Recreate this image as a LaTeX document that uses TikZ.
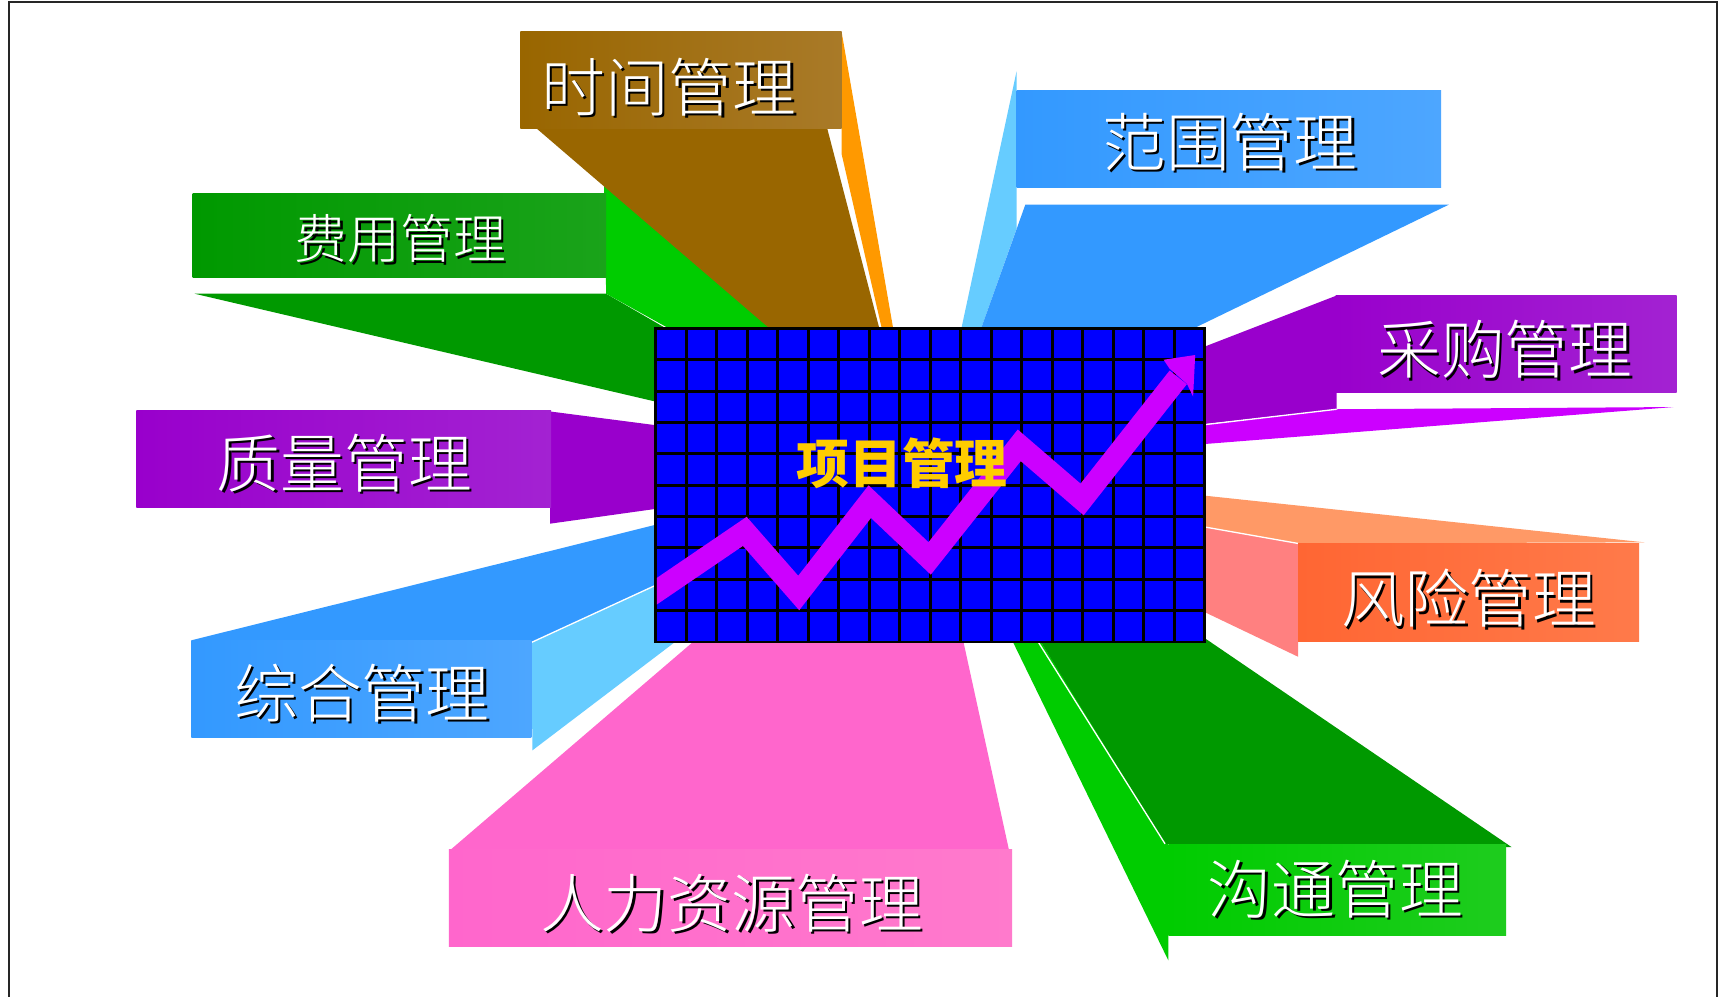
\documentclass[tikz,border=0pt]{standalone}
\usepackage{fontspec}
\IfFontExistsTF{Noto Sans CJK SC Light}
  {\newfontfamily\songti{Noto Sans CJK SC Light}}
  {\newfontfamily\songti{Noto Sans CJK SC}}
\newfontfamily\heiti{Noto Sans CJK SC}
\definecolor{brownA}{HTML}{996600}
\definecolor{brownB}{HTML}{A97A28}
\definecolor{orangeA}{HTML}{FF9900}
\definecolor{greenD}{HTML}{009900}
\definecolor{greenDB}{HTML}{1AA31A}
\definecolor{greenL}{HTML}{00CC00}
\definecolor{greenLB}{HTML}{1ECC1E}
\definecolor{purpA}{HTML}{9900CC}
\definecolor{purpB}{HTML}{A322D2}
\definecolor{magA}{HTML}{CC00FF}
\definecolor{blueA}{HTML}{3399FF}
\definecolor{blueB}{HTML}{4DA6FF}
\definecolor{blueL}{HTML}{66CCFF}
\definecolor{pinkA}{HTML}{FF66CC}
\definecolor{pinkB}{HTML}{FF7ACC}
\definecolor{riskA}{HTML}{FF6633}
\definecolor{riskB}{HTML}{FF7A4A}
\definecolor{riskTop}{HTML}{FF9966}
\definecolor{riskSide}{HTML}{FF8080}
\definecolor{gridBlue}{HTML}{0000FF}
\definecolor{gold}{HTML}{FFCC00}
\newcommand\shtxt[1]{\rlap{\kern1.1pt\raisebox{-1.1pt}{\textcolor{black}{#1}}}#1}
\tikzset{
  lbl/.style={text=white, inner sep=0pt, font=\songti\fontsize{29}{30}\selectfont},
  lblsmall/.style={lbl, font=\songti\fontsize{24}{25}\selectfont},
  gridline/.style={black, line width=1.3pt},
  sep/.style={white, line width=0.6pt},
}
\begin{document}
\begin{tikzpicture}[x=0.5pt, y=-0.5pt]
\useasboundingbox (0,0) rectangle (1568,906);
\fill[white] (0,0) rectangle (1568,906);
% frame
\draw[black!85, line width=1pt] (8,906) -- (8,2) -- (1561,2) -- (1561,906);

% ---- 费用管理 pieces
\fill[greenD] (177,267) -- (551,267) -- (608,300) -- (600,300) -- (600,366) -- cycle;
\fill[greenL] (549,166) -- (720,305) -- (610,305) -- (608,298.5) -- (551,267) -- cycle;
% ---- 时间管理 pieces
\fill[brownA] (488,117) -- (752,117) -- (801,305) -- (707,305) -- cycle;
\fill[orangeA] (765,29) -- (813,305) -- (803,305) -- (765,140) -- cycle;
\shade[left color=brownA, right color=brownB] (473,29) rectangle (765,117);
\shade[left color=greenD, right color=greenDB] (175,176) rectangle (551,252);

% ---- 质量管理
\fill[purpA] (500,374) -- (600,387) -- (600,462) -- (500,476) -- cycle;
\shade[left color=purpA, right color=purpB] (124,373) rectangle (501,461);

% ---- 综合管理
\fill[blueA] (174,582) -- (600,476) -- (600,532) -- (483,584) -- cycle;
\fill[blueL] (483,584) -- (600,530) -- (600,584) -- (613,584) -- (484,682) -- cycle;
\draw[sep] (483,584) -- (596,532);
\shade[left color=blueA, right color=blueB] (174,582) rectangle (483,670);

% ---- 人力资源管理
\fill[pinkA] (410,772) -- (634,580) -- (875,580) -- (917,772) -- cycle;
\shade[left color=pinkA, right color=pinkB] (408,772) rectangle (920,860);

% ---- 沟通管理
\fill[greenL] (919,580) -- (944,580) -- (1062,768) -- (1062,873) -- cycle;
\fill[greenD] (944,580) -- (1095,580) -- (1374,770) -- (1059,767) -- cycle;
\draw[sep] (944,584) -- (1059,767);
\shade[left color=greenL, right color=greenLB] (1062,768) rectangle (1369,850);

% ---- 风险管理
\fill[riskTop] (1090,450) -- (1495,493) -- (1180,494) -- (1090,478) -- cycle;
\fill[riskSide] (1090,478) -- (1180,494) -- (1180,597) -- (1090,554) -- cycle;
\draw[sep] (1095,479) -- (1180,494);
\shade[left color=riskA, right color=riskB] (1180,494) rectangle (1490,583);

% ---- 采购管理
\fill[purpA] (1214,269) -- (1090,317) -- (1090,386) -- (1215,372) -- cycle;
\fill[magA] (1090,386.5) -- (1215,372) -- (1521,370) -- (1090,404) -- cycle;
\draw[sep] (1095,386) -- (1215,372);
\shade[left color=purpA, right color=purpB] (1214,269) rectangle (1524,357);

% ---- 范围管理
\fill[blueL] (872.5,305) -- (924,65) -- (924,208) -- (889.5,305) -- cycle;
\fill[blueA] (932,186) -- (1317,186) -- (1071.6,305) -- (889.5,305) -- cycle;
\shade[left color=blueA, right color=blueB] (924,82) rectangle (1310,170);

% ---- central grid
\fill[gridBlue] (596,298.5) rectangle (1095,583.5);
\foreach \i in {1,...,17} \draw[gridline] ({596+\i*27.72},298.5) -- ++(0,285);
\foreach \j in {1,...,9} \draw[gridline] (596,{298.5+\j*28.5}) -- ++(499,0);
\draw[gridline] (596,298.5) rectangle (1095,583.5);

% ---- zigzag arrow
\begin{scope}
\clip (597,299) rectangle (1094,583);
\draw[magA, line width=10pt, miter limit=10] (580,549) -- (677,483) -- (726,539) -- (790.6,456) -- (845,507.6) -- (926.5,404.8) -- (983.6,454) -- (1071,343);
\fill[magA] (1086.4,322.7) -- (1057.7,327) -- (1063,335) -- (1079,349) -- (1084.5,360.6) -- cycle;
\end{scope}

% ---- labels
\node[font=\heiti\bfseries\fontsize{24}{25}\selectfont, text=gold, inner sep=0pt] (pm) at (820,421) {项目管理};
\node[lbl] (time) at (608,80) {\shtxt{时间管理}};
\node[lblsmall] (cost) at (364,218) {\shtxt{费用管理}};
\node[lbl] (qual) at (313,422) {\shtxt{质量管理}};
\node[lbl] (integ) at (329,631) {\shtxt{综合管理}};
\node[lbl] (hr) at (665,822) {\shtxt{人力资源管理}};
\node[lbl] (comm) at (1214,809) {\shtxt{沟通管理}};
\node[lbl] (risk) at (1335,545) {\shtxt{风险管理}};
\node[lbl] (proc) at (1368,319) {\shtxt{采购管理}};
\node[lbl] (scope) at (1118,130) {\shtxt{范围管理}};
\end{tikzpicture}
\end{document}
